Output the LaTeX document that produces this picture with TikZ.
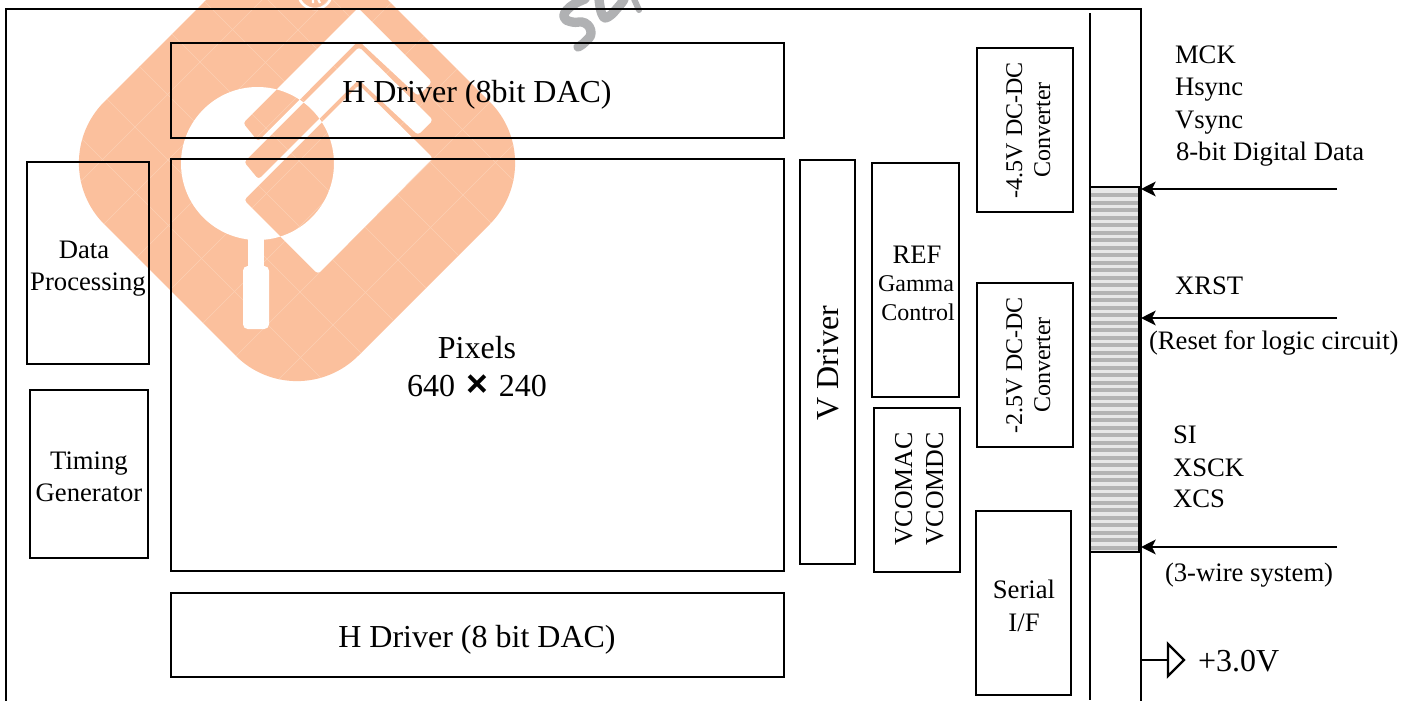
\documentclass[tikz,border=0pt]{standalone}
\usepackage{fontspec}
\setmainfont{Liberation Serif}
\newfontfamily\timesfont{Liberation Sans}
\usetikzlibrary{arrows.meta}
\definecolor{wmorange}{HTML}{FBC09D}
\definecolor{wmline}{HTML}{FCCFB4}
\definecolor{wmgrey}{HTML}{B0B1B3}
\definecolor{stripeA}{HTML}{B4B4B4}
\definecolor{stripeB}{HTML}{E8E8E8}
\newcommand{\pxbox}[6][]{%
  \pgfmathsetmacro{\bw}{(#5-#3)*0.75}\pgfmathsetmacro{\bh}{(#6-#4)*0.75}%
  \node[boxnode,#1,minimum width=\bw pt,minimum height=\bh pt] (#2) at ({(#3+#5)/2},{(#4+#6)/2}) {};}
\tikzset{
  x=0.75pt,y=-0.75pt,
  boxnode/.style={draw=black,line width=1.9pt,inner sep=0pt,outer sep=0pt,rectangle},
  thinbox/.style={line width=0.9pt},
  lbl/.style={anchor=base,inner sep=0pt,outer sep=0pt,text=black},
  leftlbl/.style={lbl,anchor=base west},
  fa/.style={font=\fontsize{24}{26}\selectfont},
  fb/.style={font=\fontsize{20}{22}\selectfont},
  fc/.style={font=\fontsize{18}{20}\selectfont},
  fd/.style={font=\fontsize{24}{26}\selectfont},
  fv/.style={font=\fontsize{19.4}{21}\selectfont},
  arr/.style={line width=1.7pt,-{Stealth[length=11pt,width=11pt,inset=2.8pt]}},
  wire/.style={line width=1.8pt},
  su/.style={draw=wmgrey,line width=7pt,line cap=round,line join=round},
}
\begin{document}
\begin{tikzpicture}
\useasboundingbox (0,0) rectangle (1401,700);
\clip (0,0) rectangle (1401,700);
\fill[white] (0,0) rectangle (1401,700);
% watermark
\begin{scope}
  \clip[rotate around={45:(297,163)},rounded corners=65pt] (117.4,-16.6) rectangle (476.6,342.6);
  \fill[wmorange] (-200,-200) rectangle (800,600);
  \foreach \k in {-7,...,7}{
    \pgfmathsetmacro{\c}{8+65*\k}
    \pgfmathsetmacro{\d}{460+66*(\k)}
    \draw[wmline,line width=0.45pt] ({\c-100},-100) -- ({\c+450},450);
    \draw[wmline,line width=0.45pt] ({\d+100},-100) -- ({\d-450},450);
  }
\end{scope}
\fill[white,even odd rule,rounded corners=2.4pt]
  (243,123) -- (358,8) -- (432,82) -- (418,96) -- (358.5,40.5) -- (258,141.5) -- cycle
  (244,162) -- (359,47) -- (433,120) -- (418,135) -- (358.5,79.5) -- (258.5,179.5) -- cycle
  (244,200) -- (359,85) -- (433,158) -- (318,274) -- cycle
  (257.5,163.5) circle [radius=76.5];
\fill[white] (248,238) rectangle (264,270);
\fill[white,rounded corners=3.5pt] (243,266) rectangle (269,329);
\draw[white,line width=1.9pt] (315,-8) circle [radius=17];
\draw[white,line width=1.6pt] (313,-1) -- (313,3) (318,-1) -- (320,3);
\draw[su] plot[smooth,tension=0.8] coordinates {(585,-1) (570,7) (564,17) (572,22) (585,23) (591,33) (585,42) (578,47)};
\draw[su] plot[smooth,tension=0.8] coordinates {(599,-1) (602,14) (608,17) (620,5) (624,-1)};
\draw[su,line width=4.5pt] (634,-1) -- (639,10);
% frame
\pxbox{frame}{6}{9}{1141}{730}
\coordinate (busT) at (1090,13);
\coordinate (busB) at (1090,700);
\draw[wire] (busT) -- (busB);
% connector comb
\begin{scope}
  \fill[stripeB] (1090,187) rectangle (1140,552);
  \foreach \k in {0,...,47}{
    \fill[stripeA] (1091,{193+7.5*\k}) rectangle (1139,{197+7.5*\k});
  }
\end{scope}
\pxbox{comb}{1090}{187}{1140}{552}
\draw[line width=3pt] (comb.north east) -- (comb.south east);
% blocks
\pxbox{hdtop}{171}{43}{784}{138}
\pxbox{pix}{171}{159}{784}{571}
\pxbox{hdbot}{171}{593}{784}{677}
\pxbox{dp}{27}{162}{149}{364}
\pxbox{tg}{30}{390}{148}{558}
\pxbox{vd}{800}{160}{855}{564}
\pxbox{ref}{872}{163}{959}{397}
\pxbox{vcom}{874}{408}{960}{572}
\pxbox{dca}{977}{48}{1073}{212}
\pxbox{dcb}{977}{283}{1073}{447}
\pxbox[thinbox]{sif}{976}{511}{1071}{695}
% labels
\node[lbl,fa] (t1) at (477,102) {H Driver (8bit DAC)};
\node[lbl,fa] (t2) at (477,647) {H Driver (8 bit DAC)};
\node[lbl,fd] (t3) at (477,358) {Pixels};
\node[lbl,fd] (t4) at (477,396) {640\hspace{0.34em}{\timesfont\bfseries\fontsize{28}{28}\selectfont ×}\hspace{0.34em}240};
\node[lbl,fd,rotate=90] (t5) at (838,363) {V Driver};
\node[lbl,fb] (t6) at (84,258) {Data};
\node[lbl,fb] (t7) at (88,290) {Processing};
\node[lbl,fb] (t8) at (89,469) {Timing};
\node[lbl,fb] (t9) at (89,501) {Generator};
\node[lbl,fb] (t10) at (917,263) {REF};
\node[lbl,fc] (t11) at (916,291) {Gamma};
\node[lbl,fc] (t12) at (918,320) {Control};
\node[lbl,fv,rotate=90] (t13) at (912,489) {VCOMAC};
\node[lbl,fv,rotate=90] (t14) at (943,489) {VCOMDC};
\node[lbl,fc,rotate=90] (t15) at (1022,130) {-4.5V DC-DC};
\node[lbl,fc,rotate=90] (t16) at (1050,130) {Converter};
\node[lbl,fc,rotate=90] (t17) at (1022,365) {-2.5V DC-DC};
\node[lbl,fc,rotate=90] (t18) at (1050,365) {Converter};
\node[lbl,fb] (t19) at (1024,598) {Serial};
\node[lbl,fb] (t20) at (1024,631) {I/F};
\node[leftlbl,fb] (t21) at (1175,63) {MCK};
\node[leftlbl,fb] (t22) at (1175,95) {Hsync};
\node[leftlbl,fb] (t23) at (1175,128) {Vsync};
\node[leftlbl,fb] (t24) at (1176,160) {8-bit Digital Data};
\node[leftlbl,fb] (t25) at (1175,294) {XRST};
\node[leftlbl,fb] (t26) at (1149,349) {(Reset for logic circuit)};
\node[leftlbl,fb] (t27) at (1173,443) {SI};
\node[leftlbl,fb] (t28) at (1173,476) {XSCK};
\node[leftlbl,fb] (t29) at (1173,507) {XCS};
\node[leftlbl,fb] (t30) at (1165,581) {(3-wire system)};
\node[leftlbl,fd] (t31) at (1198,671) {+3.0V};
% arrows
\coordinate (a1) at (1337,189);
\coordinate (a2) at (1337,318);
\coordinate (a3) at (1337,547);
\draw[arr] (a1) -- (a1 -| frame.east);
\draw[arr] (a2) -- (a2 -| frame.east);
\draw[arr] (a3) -- (a3 -| frame.east);
% power
\coordinate (pw) at (1168,660);
\draw[wire] (pw -| frame.east) -- (pw);
\draw[wire,line join=miter,fill=white] (1168,644) -- (1184,660) -- (1168,676) -- cycle;
\end{tikzpicture}
\end{document}
